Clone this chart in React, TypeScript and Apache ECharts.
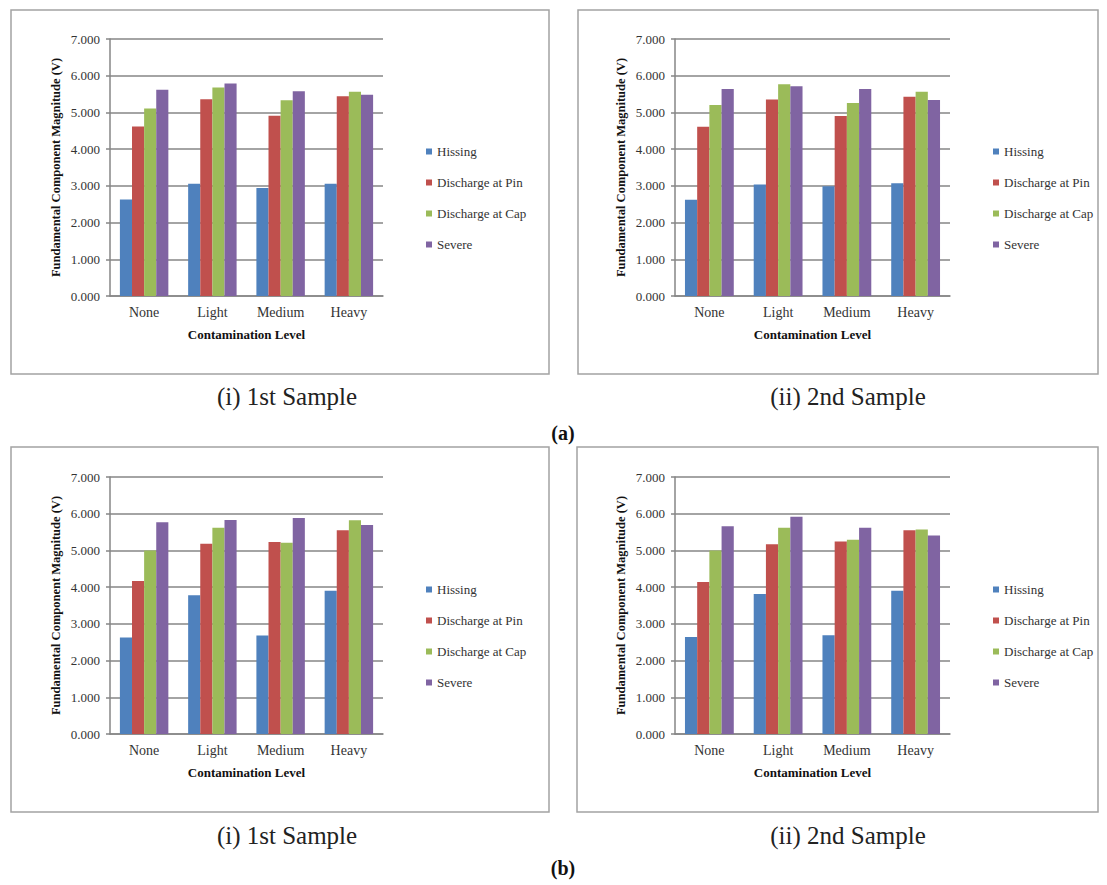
import React, { useEffect, useRef } from "react";
import * as echarts from "echarts";

const categories = ["None", "Light", "Medium", "Heavy"];
const seriesNames = ["Hissing", "Discharge at Pin", "Discharge at Cap", "Severe"];
const colors = ["#4F81BD", "#C0504D", "#9BBB59", "#8064A2"];
const yTicks = [0, 1, 2, 3, 4, 5, 6, 7];

// (a)(i) 1st Sample
const a1Hissing = [2.63, 3.06, 2.94, 3.06];
const a1Pin = [4.62, 5.36, 4.91, 5.44];
const a1Cap = [5.11, 5.68, 5.33, 5.56];
const a1Severe = [5.62, 5.79, 5.58, 5.48];
// (a)(ii) 2nd Sample
const a2Hissing = [2.62, 3.04, 2.99, 3.07];
const a2Pin = [4.61, 5.35, 4.9, 5.43];
const a2Cap = [5.2, 5.77, 5.26, 5.56];
const a2Severe = [5.64, 5.71, 5.64, 5.34];
// (b)(i) 1st Sample
const b1Hissing = [2.63, 3.78, 2.68, 3.9];
const b1Pin = [4.17, 5.18, 5.23, 5.55];
const b1Cap = [5.0, 5.62, 5.21, 5.82];
const b1Severe = [5.77, 5.83, 5.88, 5.69];
// (b)(ii) 2nd Sample
const b2Hissing = [2.64, 3.81, 2.69, 3.9];
const b2Pin = [4.14, 5.17, 5.24, 5.55];
const b2Cap = [5.0, 5.62, 5.29, 5.57];
const b2Severe = [5.66, 5.92, 5.62, 5.41];

const panels = [
  [a1Hissing, a1Pin, a1Cap, a1Severe],
  [a2Hissing, a2Pin, a2Cap, a2Severe],
  [b1Hissing, b1Pin, b1Cap, b1Severe],
  [b2Hissing, b2Pin, b2Cap, b2Severe],
];

const xTitle = "Contamination Level";
const yTitle = "Fundamental Component Magnitude (V)";
const captions = ["(i) 1st Sample", "(ii) 2nd Sample", "(i) 1st Sample", "(ii) 2nd Sample"];
const groupLabels = ["(a)", "(b)"];

const SERIF = "'Liberation Serif', 'Times New Roman', serif";

const grids = [
  { left: 110, top: 39, width: 273, height: 257 },
  { left: 675, top: 39, width: 275, height: 257 },
  { left: 110, top: 477, width: 273, height: 257 },
  { left: 675, top: 477, width: 275, height: 257 },
];
const boxes = [
  { x: 11, y: 10, width: 538, height: 364 },
  { x: 578, y: 10, width: 520, height: 364 },
  { x: 11, y: 447, width: 538, height: 365 },
  { x: 577, y: 447, width: 521, height: 365 },
];
const legendPos = [
  { left: 421, top: 139 },
  { left: 988, top: 139 },
  { left: 421, top: 577 },
  { left: 988, top: 577 },
];
const captionPos = [
  { x: 287, y: 396 },
  { x: 848, y: 396 },
  { x: 287, y: 835 },
  { x: 848, y: 835 },
];
const groupPos = [
  { x: 563, y: 433 },
  { x: 563, y: 868 },
];

export default function App() {
  const ref = useRef<HTMLDivElement>(null);
  useEffect(() => {
    document.body.style.margin = "0";
    const chart = echarts.init(ref.current!, null, { renderer: "svg" });
    const xAxis = grids.map((_, i) => ({
      type: "category",
      gridIndex: i,
      data: categories,
      axisLine: { lineStyle: { color: "#868686", width: 1.5 } },
      axisTick: { show: false },
      axisLabel: { color: "#333", fontFamily: SERIF, fontSize: 14, margin: 9 },
      name: xTitle,
      nameLocation: "middle",
      nameGap: 32,
      nameTextStyle: { color: "#111", fontFamily: SERIF, fontSize: 13, fontWeight: "bold" },
    }));
    const yAxis = grids.map((_, i) => ({
      type: "value",
      gridIndex: i,
      min: yTicks[0],
      max: yTicks[yTicks.length - 1],
      interval: 1,
      axisLine: { show: true, lineStyle: { color: "#868686", width: 1.5 } },
      axisTick: { show: true, length: 4, lineStyle: { color: "#868686", width: 1.5 } },
      splitLine: { show: true, lineStyle: { color: "#868686", width: 1.5 } },
      axisLabel: {
        color: "#333",
        fontFamily: SERIF,
        fontSize: 13,
        margin: 10,
        formatter: (v: number) => v.toFixed(3),
      },
      name: yTitle,
      nameLocation: "middle",
      nameGap: 48,
      nameTextStyle: { color: "#111", fontFamily: SERIF, fontSize: 12.5, fontWeight: "bold" },
    }));
    const series: any[] = [];
    panels.forEach((panel, p) => {
      panel.forEach((vals, s) => {
        series.push({
          type: "bar",
          name: seriesNames[s],
          xAxisIndex: p,
          yAxisIndex: p,
          data: vals,
          barGap: "0%",
          barCategoryGap: "29%",
          itemStyle: { color: colors[s] },
        });
      });
    });
    const legend = legendPos.map((pos) => ({
      left: pos.left,
      top: pos.top,
      orient: "vertical",
      icon: "rect",
      itemWidth: 6,
      itemHeight: 6,
      itemGap: 16,
      data: seriesNames,
      textStyle: { color: "#333", fontFamily: SERIF, fontSize: 13, lineHeight: 15 },
    }));
    const graphic: any[] = [];
    boxes.forEach((b) => {
      graphic.push({
        type: "rect",
        shape: b,
        silent: true,
        z: -1,
        style: { fill: "none", stroke: "#a3a3a3", lineWidth: 1.5 },
      });
    });
    captionPos.forEach((c, i) => {
      graphic.push({
        type: "text",
        x: c.x,
        y: c.y,
        style: {
          text: captions[i],
          fill: "#222",
          font: `25px ${SERIF}`,
          align: "center",
          textAlign: "center",
          verticalAlign: "middle",
          textVerticalAlign: "middle",
        },
      });
    });
    groupPos.forEach((c, i) => {
      graphic.push({
        type: "text",
        x: c.x,
        y: c.y,
        style: {
          text: groupLabels[i],
          fill: "#111",
          font: `bold 20px ${SERIF}`,
          align: "center",
          textAlign: "center",
          verticalAlign: "middle",
          textVerticalAlign: "middle",
        },
      });
    });
    chart.setOption({
      animation: false,
      backgroundColor: "#ffffff",
      grid: grids,
      xAxis,
      yAxis,
      legend,
      series,
      graphic,
    });
    return () => chart.dispose();
  }, []);
  return <div ref={ref} style={{ width: 1107, height: 885 }} />;
}
